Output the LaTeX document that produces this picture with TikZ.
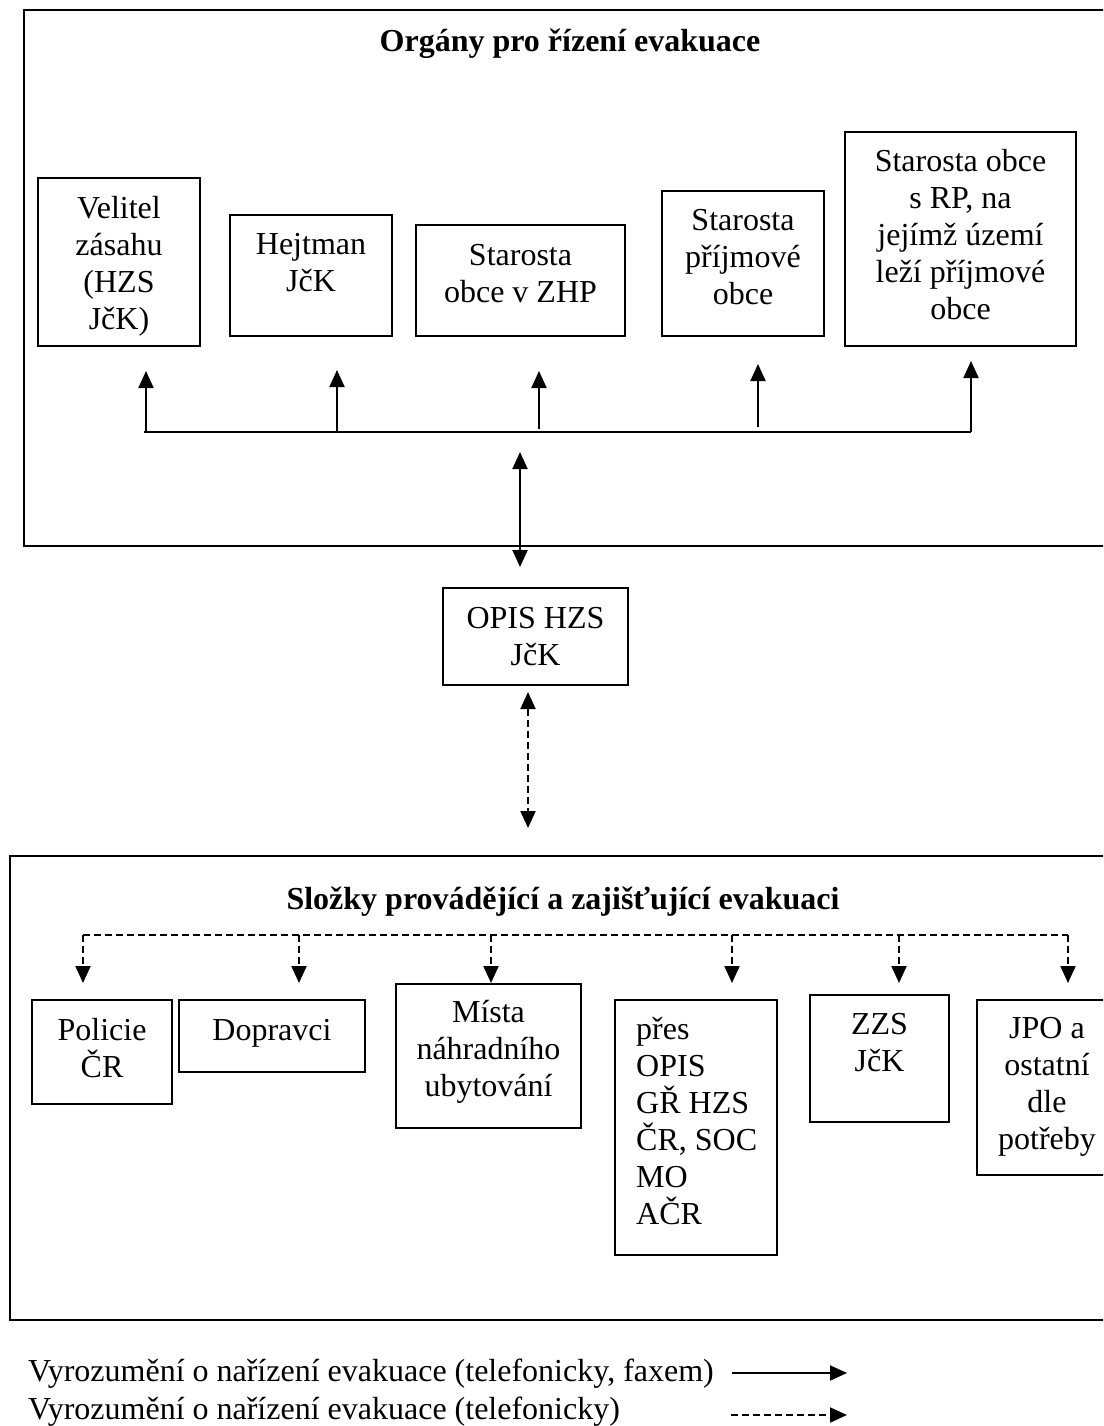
\documentclass[tikz,border=0pt]{standalone}
\usepackage{fontspec}
\setmainfont{Liberation Serif}
\usetikzlibrary{arrows.meta,fit}
\begin{document}
\begin{tikzpicture}[x=1pt,y=-1pt,
  every node/.style={inner sep=0pt},
  % multi-line texts sit on the baseline of their last line
  txt/.style={font=\fontsize{32}{37}\selectfont, align=center, anchor=base},
  ttl/.style={font=\fontsize{32}{37}\selectfont\bfseries, anchor=base},
  box/.style={draw, line width=2.5pt, fit={#1}},
  tip/.style={Triangle[length=17pt,width=15pt]},
  link/.style={line width=2pt, -{Triangle[length=17pt,width=15pt]}},
  both/.style={line width=2pt, {Triangle[length=17pt,width=15pt]}-{Triangle[length=17pt,width=15pt]}},
  dlink/.style={link, dash pattern=on 7pt off 4pt},
  dboth/.style={both, dash pattern=on 7pt off 4pt},
  bus/.style={line width=2.2pt},
  dbus/.style={line width=2pt, dash pattern=on 7pt off 4pt},
]
\path[use as bounding box] (0,0) rectangle (1103,1426);
\clip (0,0) rectangle (1103,1426);

% ---- upper group: bodies directing the evacuation ----
\node[box={(24,10) (1130,546)}] (organy) {};
\node[ttl] (organy-title) at (570,52) {Orgány pro řízení evakuace};

\node[box={(38,178) (200,346)}] (velitel) {};
\node[box={(230,215) (392,336)}] (hejtman) {};
\node[box={(416,225) (625,336)}] (zhp) {};
\node[box={(662,191) (824,336)}] (prijmova) {};
\node[box={(845,132) (1076,346)}] (rp) {};

\node[txt] (velitel-t) at (velitel.center |- 0,329) {Velitel\\zásahu\\(HZS\\JčK)};
\node[txt] (hejtman-t) at (hejtman.center |- 0,291) {Hejtman\\JčK};
\node[txt] (zhp-t) at (zhp.center |- 0,302) {Starosta\\obce v ZHP};
\node[txt] (prijmova-t) at (prijmova.center |- 0,304) {Starosta\\příjmové\\obce};
\node[txt] (rp-t) at (rp.center |- 0,319) {Starosta obce\\s RP, na\\jejímž území\\leží příjmové\\obce};

% distribution line and arrows up to each body
\coordinate (busL) at (144,432);
\coordinate (busR) at (971,432);
\draw[bus] (busL) -- (busR);
\foreach \n/\x/\yb/\yt in {1/146/432/371, 2/337/432/370, 3/539/429/371, 4/758/427/364, 5/971/432/361} {
  \coordinate (up\n-from) at (\x,\yb);
  \coordinate (up\n-to) at (\x,\yt);
  \draw[link] (up\n-from) -- (up\n-to);
}

% ---- operations centre ----
\node[box={(443,588) (628,685)}] (opis) {};
\node[txt] (opis-t) at (opis.center |- 0,665) {OPIS HZS\\JčK};

\coordinate (m1-top) at (520,452);
\coordinate (m1-bot) at (520,567);
\draw[both] (m1-top) -- (m1-bot);

\coordinate (m2-top) at (528,692);
\coordinate (m2-bot) at (528,828);
\draw[dboth] (m2-top) -- (m2-bot);

% ---- lower group: units carrying out the evacuation ----
\node[box={(10,856) (1130,1320)}] (slozky) {};
\node[ttl] (slozky-title) at (563,909) {Složky provádějící a zajišťující evakuaci};

\node[box={(32,1000) (172,1104)}] (policie) {};
\node[box={(179,1000) (365,1072)}] (dopravci) {};
\node[box={(396,984) (581,1128)}] (mista) {};
\node[box={(615,1000) (777,1255)}] (pres) {};
\node[box={(810,995) (949,1122)}] (zzs) {};
\node[box={(977,1000) (1130,1175)}] (jpo) {};

\node[txt] (policie-t) at (policie.center |- 0,1077) {Policie\\ČR};
\node[txt] (dopravci-t) at (dopravci.center |- 0,1040) {Dopravci};
\node[txt] (mista-t) at (mista.center |- 0,1096) {Místa\\náhradního\\ubytování};
\node[txt, align=left, anchor=base west] (pres-t) at (636,1224) {přes\\OPIS\\GŘ HZS\\ČR, SOC\\MO\\AČR};
\node[txt] (zzs-t) at (zzs.center |- 0,1071) {ZZS\\JčK};
\node[txt] (jpo-t) at (1047,1149) {JPO a\\ostatní\\dle\\potřeby};

\coordinate (dbusL) at (83,935);
\coordinate (dbusR) at (1068,935);
\draw[dbus] (dbusL) -- (dbusR);
\foreach \n/\x in {1/83, 2/299, 3/491, 4/732, 5/899, 6/1068} {
  \coordinate (dn\n-from) at (\x,935);
  \coordinate (dn\n-to) at (\x,983);
  \draw[dlink] (dn\n-from) -- (dn\n-to);
}

% ---- legend ----
\node[txt, anchor=base west] (leg1) at (28,1381) {Vyrozumění o nařízení evakuace (telefonicky, faxem)};
\node[txt, anchor=base west] (leg2) at (28,1419) {Vyrozumění o nařízení evakuace (telefonicky)};
\coordinate (leg1-from) at (732,1373);
\coordinate (leg1-to) at (847,1373);
\coordinate (leg2-from) at (731,1415);
\coordinate (leg2-to) at (847,1415);
\draw[link] (leg1-from) -- (leg1-to);
\draw[dlink] (leg2-from) -- (leg2-to);
\end{tikzpicture}
\end{document}
